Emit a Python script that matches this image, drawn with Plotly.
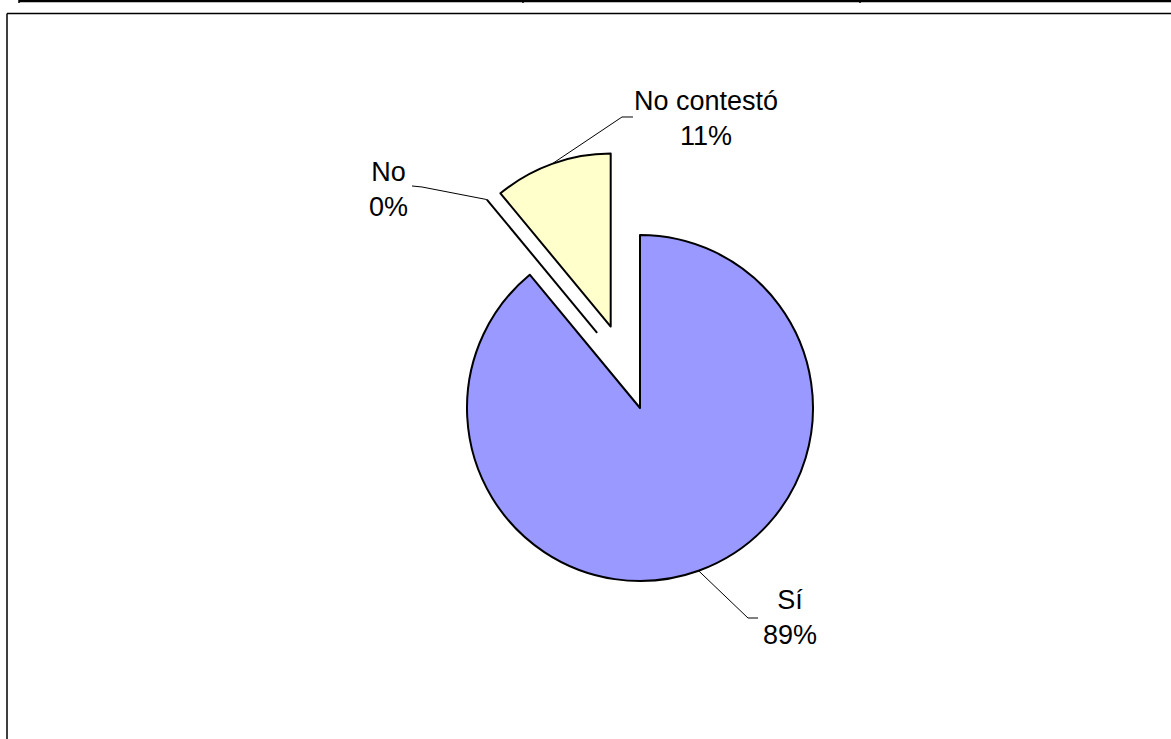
import math
import plotly.graph_objects as go

# ---- data ----
labels = ["Sí", "No", "No contestó"]
values = [89, 0, 11]
colors = ["#9999FF", "#FFFFFF", "#FFFFCC"]
pulls = [0.0, 0.5, 0.5]

W, H = 1171, 739
FONT = "Liberation Sans, Arial, sans-serif"

# pie domain (pixels)
CX, CY = 640.0, 408.0
HALF = 259.5
dom_x = [(CX - HALF) / W, (CX + HALF) / W]
dom_y = [1 - (CY + HALF) / H, 1 - (CY - HALF) / H]
R = HALF / (1 + max(pulls))

def px(x):
    return x / W

def py(y):
    return 1 - y / H

# zero-value slices are drawn separately (as a single radial line), so hide their outline
line_widths = [2 if v > 0 else 0 for v in values]

fig = go.Figure(go.Pie(
    labels=labels, values=values, sort=False, direction="clockwise", rotation=0,
    pull=pulls, textinfo="none", hoverinfo="skip", showlegend=False,
    marker=dict(colors=colors, line=dict(color="black", width=line_widths)),
    domain=dict(x=dom_x, y=dom_y),
))

# label positions (text block centre) and leader elbows (pixels)
label_pos = {"Sí": (790, 617), "No": (388, 190), "No contestó": (706, 118)}
elbows = {
    "Sí": [(748, 618), (758, 618)],
    "No": [(422, 187), (412, 186)],
    "No contestó": [(622, 117), (633, 117)],
}

total = sum(values)
start = 0.0
shapes = []
annotations = []
prev_mid = None
for i, (lab, v, p) in enumerate(zip(labels, values, pulls)):
    frac = v / total
    a0 = start * 2 * math.pi
    mid = (start + frac / 2) * 2 * math.pi
    start += frac
    sx, sy = math.sin(mid), -math.cos(mid)
    if v == 0:
        # explode the empty slice halfway between its edge and the next slice's centre
        nxt_mid = (start + values[i + 1] / total / 2) * 2 * math.pi if i + 1 < len(values) else mid
        pa = (mid + nxt_mid) / 2
        vx, vy = CX + p * R * math.sin(pa), CY - p * R * math.cos(pa)
        ex, ey = vx + R * sx, vy + R * sy
        shapes.append(dict(type="line", xref="paper", yref="paper",
                           x0=px(vx), y0=py(vy), x1=px(ex), y1=py(ey),
                           line=dict(color="black", width=2)))
        ax, ay = ex, ey
    else:
        vx, vy = CX + p * R * sx, CY + p * R * sy
        ax, ay = vx + R * sx, vy + R * sy
    pts = [(ax, ay)] + elbows[lab]
    path = "M " + " L ".join(f"{px(x):.5f},{py(y):.5f}" for x, y in pts)
    shapes.append(dict(type="path", path=path, xref="paper", yref="paper",
                       line=dict(color="black", width=1)))
    tx, ty = label_pos[lab]
    annotations.append(dict(text=f"{lab}<br>{round(frac * 100)}%", x=px(tx), y=py(ty),
                            xref="paper", yref="paper", showarrow=False,
                            xanchor="center", yanchor="middle",
                            font=dict(family=FONT, size=27, color="black")))

# page borders
border = dict(color="black", width=1.5)
shapes += [
    dict(type="line", xref="paper", yref="paper", x0=px(19), x1=px(1171), y0=py(1), y1=py(1),
         line=dict(color="black", width=2.5)),
    dict(type="line", xref="paper", yref="paper", x0=px(19), x1=px(19), y0=py(0), y1=py(3),
         line=dict(color="black", width=1.5)),
    dict(type="line", xref="paper", yref="paper", x0=px(523), x1=px(523), y0=py(0), y1=py(3),
         line=dict(color="black", width=1.5)),
    dict(type="line", xref="paper", yref="paper", x0=px(860), x1=px(860), y0=py(0), y1=py(3),
         line=dict(color="black", width=1.5)),
    dict(type="line", xref="paper", yref="paper", x0=px(7), x1=px(1171), y0=py(13.5), y1=py(13.5),
         line=border),
    dict(type="line", xref="paper", yref="paper", x0=px(7), x1=px(7), y0=py(13.5), y1=py(739),
         line=border),
]

fig.update_layout(
    width=W, height=H, margin=dict(l=0, r=0, t=0, b=0),
    paper_bgcolor="white", plot_bgcolor="white",
    shapes=shapes, annotations=annotations,
    font=dict(family=FONT),
)

fig.write_html("out.html", config={"displayModeBar": False},
               post_script="document.body.style.margin='0';document.body.style.overflow='hidden';")
